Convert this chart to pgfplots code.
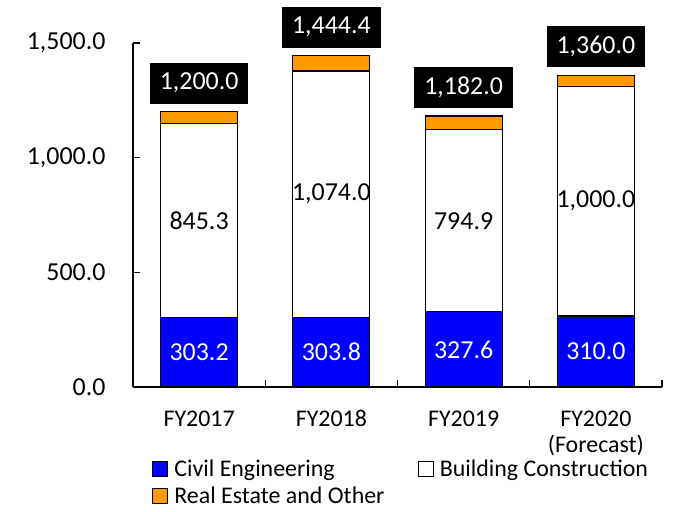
\documentclass[border=0pt]{standalone}
\usepackage{pgfplots}
\pgfplotsset{compat=1.18}
\usepackage{pgfplotstable}
\usepackage{fontspec}
\setmainfont{Carlito}
\definecolor{civil}{RGB}{0,0,255}
\definecolor{realest}{RGB}{255,153,0}
\pgfplotstableread{
x civil build real total
0 303.2 845.3 51.5 1200.0
1 303.8 1074.0 66.6 1444.4
2 327.6 794.9 59.5 1182.0
3 310.0 1000.0 50.0 1360.0
}\datatable
\pgfplotsset{
  /pgf/number format/.cd, fixed, fixed zerofill, precision=1, 1000 sep={,}, assume math mode=true,
}
\begin{document}
\begin{tikzpicture}
\begin{axis}[
  name=ax,
  scale only axis,
  width=529bp, height=344bp,
  ybar stacked,
  bar width=77bp,
  xmin=-0.5, xmax=3.5,
  ymin=0, ymax=1500,
  clip=false,
  axis x line*=bottom,
  axis y line*=left,
  axis line style={line width=1.4bp, black},
  every tick/.style={line width=1.4bp, black},
  tick align=inside,
  major tick length=7bp,
  ytick={0,500,1000,1500},
  xtick={0.5,1.5,2.5,3.5},
  xticklabels={},
  extra x ticks={0,1,2,3},
  extra x tick labels={FY2017,FY2018,FY2019,{FY2020\\(Forecast)}},
  extra x tick style={major tick length=0pt},
  xticklabel style={font=\fontsize{24}{27}\selectfont, align=center, yshift=-20bp},
  yticklabel style={font=\fontsize{26}{30}\selectfont, xshift=-24bp},
  legend image code/.code={\draw[#1, line width=1.2bp] (0bp,-7.5bp) rectangle (15bp,7.5bp);},
  legend columns=2,
  legend cell align=left,
  legend style={draw=none, fill=none, at={(0,0)}, anchor=north west, xshift=19bp, yshift=-71bp,
    font=\fontsize{24}{28}\selectfont, inner sep=0pt, row sep=5bp,
    /tikz/every odd column/.append style={column sep=4bp},
    /tikz/every even column/.append style={column sep=31bp}},
]
\addplot[fill=civil, draw=black, line width=1.2bp]
  table[x=x, y=civil] {\datatable};
\addlegendentry{Civil Engineering}
\addplot[fill=white, draw=black, line width=1.2bp]
  table[x=x, y=build] {\datatable};
\addlegendentry{Building Construction}
\addplot[fill=realest, draw=black, line width=1.2bp]
  table[x=x, y=real] {\datatable};
\addlegendentry{Real Estate and Other}
\end{axis}
\begin{axis}[
  at={(ax.south west)}, anchor=south west,
  scale only axis,
  width=529bp, height=344bp,
  xmin=-0.5, xmax=3.5,
  ymin=0, ymax=1500,
  clip=false,
  axis lines=none,
  nodes near coords,
  point meta=explicit,
]
\addplot[draw=none, mark=none,
  nodes near coords style={anchor=center, text=white, font=\fontsize{26}{30}\selectfont}]
  table[x=x, y expr=\thisrow{civil}/2, meta=civil] {\datatable};
\addplot[draw=none, mark=none,
  nodes near coords style={anchor=center, text=black, font=\fontsize{26}{30}\selectfont}]
  table[x=x, y expr=\thisrow{civil}+\thisrow{build}/2, meta=build] {\datatable};
\addplot[draw=none, mark=none,
  nodes near coords style={anchor=south, yshift=8bp, fill=black, text=white, inner xsep=10bp, inner ysep=0pt, minimum height=41bp, font=\fontsize{26}{30}\selectfont}]
  table[x=x, y=total, meta=total] {\datatable};
\end{axis}
\pgfresetboundingbox
\path[use as bounding box] ([shift={(-133bp,-125bp)}]ax.south west) rectangle ([shift={(547bp,387bp)}]ax.south west);
\end{tikzpicture}
\end{document}
